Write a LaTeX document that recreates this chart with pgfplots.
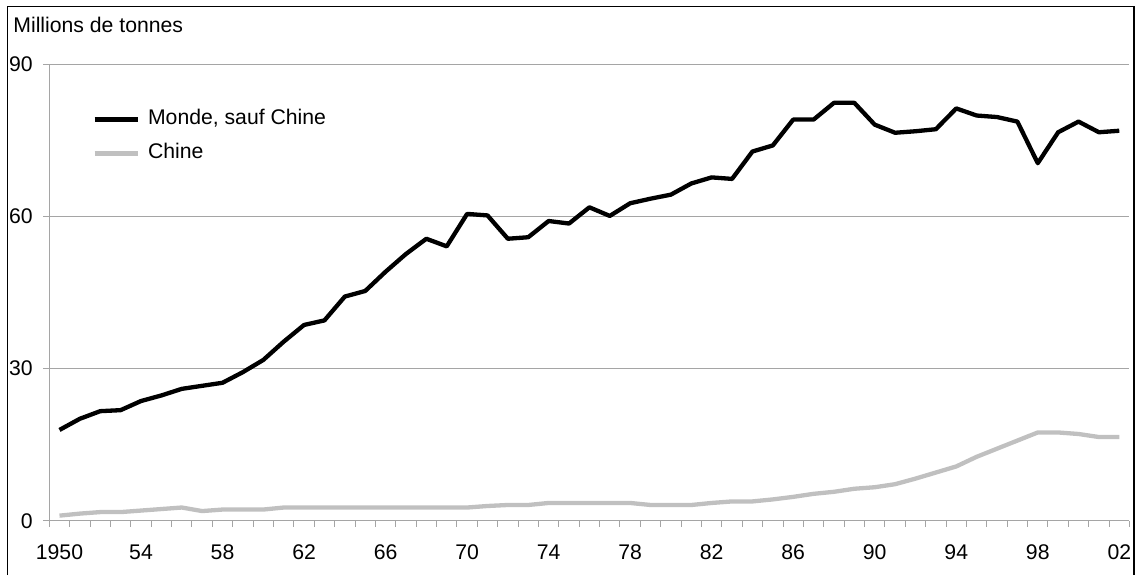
\documentclass[border=0pt]{standalone}
\usepackage{pgfplots}
\pgfplotsset{compat=1.18}
\usepackage{fontspec}
\setmainfont{Liberation Sans}
\definecolor{silverline}{RGB}{192,192,192}
\definecolor{gridgray}{RGB}{165,165,165}
\begin{document}
\fontsize{10.6pt}{12pt}\selectfont
\begin{tikzpicture}
\useasboundingbox (-24.65pt,-27.15pt) rectangle (543.35pt,260.35pt);
\begin{axis}[
  at={(0pt,0pt)}, anchor=south west,
  scale only axis,
  width=540.1pt, height=228.2pt,
  xmin=1949.5, xmax=2002.5,
  ymin=0, ymax=90,
  axis lines=left,
  axis line style={-, draw=gridgray, line width=0.5pt},
  ytick={0,30,60,90},
  ymajorgrids,
  grid style={draw=gridgray, line width=0.5pt},
  tick style={draw=gridgray, line width=0.5pt},
  tick align=outside,
  major tick length=3pt,
  xtick={1949.5,1950.5,...,2002.5},
  xticklabels={},
  extra x ticks={1950,1954,1958,1962,1966,1970,1974,1978,1982,1986,1990,1994,1998,2002},
  extra x tick labels={1950,54,58,62,66,70,74,78,82,86,90,94,98,02},
  extra x tick style={grid=none, major tick length=0pt, xticklabel style={anchor=north, inner sep=0pt, yshift=-11.9pt}},
  /pgf/number format/assume math mode=true,
  yticklabel style={anchor=east, inner sep=0pt, xshift=-5.15pt},
  ticklabel style={font=\fontsize{10.6pt}{12pt}\selectfont},
  legend style={draw=none, fill=none, at={(0.0395,0.842)}, anchor=west, inner sep=0pt,
    font=\fontsize{10.6pt}{12pt}\selectfont,
    nodes={inner sep=0pt, text height=7.5pt, text depth=2.2pt},
    row sep=7.3pt,
    /tikz/every odd column/.append style={column sep=4.2pt}},
  legend cell align=left,
  legend image code/.code={\draw[#1] (0pt,0pt) -- (21.5pt,0pt);},
  clip=false,
]
\addplot[black, line width=2.15pt, line join=round] coordinates {
(1950,17.9) (1951,20.1) (1952,21.6) (1953,21.8) (1954,23.6) (1955,24.7) (1956,26.0) (1957,26.6) (1958,27.2) (1959,29.3)
(1960,31.7) (1961,35.3) (1962,38.6) (1963,39.5) (1964,44.2) (1965,45.3) (1966,49.1) (1967,52.6) (1968,55.6) (1969,54.1)
(1970,60.5) (1971,60.2) (1972,55.6) (1973,55.9) (1974,59.1) (1975,58.6) (1976,61.8) (1977,60.1) (1978,62.6) (1979,63.5)
(1980,64.3) (1981,66.5) (1982,67.7) (1983,67.4) (1984,72.8) (1985,74.0) (1986,79.1) (1987,79.1) (1988,82.4) (1989,82.4)
(1990,78.1) (1991,76.5) (1992,76.8) (1993,77.2) (1994,81.3) (1995,79.9) (1996,79.6) (1997,78.7) (1998,70.5) (1999,76.6)
(2000,78.7) (2001,76.6) (2002,76.9)
};
\addlegendentry{Monde, sauf Chine}
\addplot[silverline, line width=2.15pt, line join=round] coordinates {
(1950,1.0) (1951,1.4) (1952,1.7) (1953,1.7) (1954,2.0) (1955,2.3) (1956,2.6) (1957,1.9) (1958,2.2) (1959,2.2)
(1960,2.2) (1961,2.6) (1962,2.6) (1963,2.6) (1964,2.6) (1965,2.6) (1966,2.6) (1967,2.6) (1968,2.6) (1969,2.6)
(1970,2.6) (1971,2.9) (1972,3.1) (1973,3.1) (1974,3.5) (1975,3.5) (1976,3.5) (1977,3.5) (1978,3.5) (1979,3.1)
(1980,3.1) (1981,3.1) (1982,3.5) (1983,3.8) (1984,3.8) (1985,4.2) (1986,4.7) (1987,5.3) (1988,5.7) (1989,6.3)
(1990,6.6) (1991,7.2) (1992,8.3) (1993,9.5) (1994,10.7) (1995,12.6) (1996,14.2) (1997,15.8) (1998,17.4) (1999,17.4)
(2000,17.1) (2001,16.5) (2002,16.5)
};
\addlegendentry{Chine}
\end{axis}
\draw[black, line width=0.7pt] (-21pt,-27.15pt) -- (-21pt,257pt) -- (542.35pt,257pt) -- (542.35pt,-27.15pt);
\node[anchor=base west, inner sep=0pt] at (-18.15pt,244.35pt) {Millions de tonnes};
\end{tikzpicture}
\end{document}
